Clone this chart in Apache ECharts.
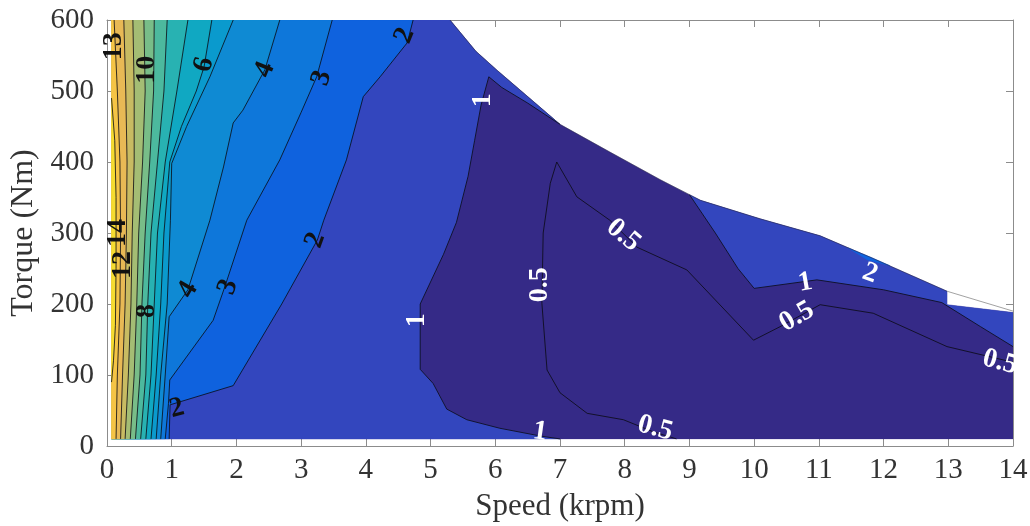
<!DOCTYPE html>
<html><head><meta charset="utf-8">
<script src="https://cdn.jsdelivr.net/npm/echarts@6/dist/echarts.min.js"></script>
<style>html,body{margin:0;padding:0;background:#fff}#c{width:1030px;height:526px}</style>
</head><body><div id="c"></div>
<script>
// ---------- data (speed in krpm, torque in Nm) ----------
const speedTicks = [0,1,2,3,4,5,6,7,8,9,10,11,12,13,14];
const torqueTicks = [0,100,200,300,400,500,600];
const contourLevels = [0.5,1,2,3,4,5,6,7,8,9,10,11,12,13,14];
const speedMin = 0.07;
const torqueMin = 10;

// operating envelope (upper boundary, left to right)
const envelopeTop = [[0.07,600],[5.3,600],[5.7,556],[6.03,529],[7.0,453],[7.77,414],[8.55,375],[9.0,354],[9.17,346],[10.09,320],[11.02,296],[11.79,266],[12.98,218],[12.98,199],[14,188]];
const notchTop = [[12.98,218],[14,190]];

// contour lines (loss %)
const c05 = [[8.8,10],[8.44,20],[7.98,37],[7.42,46],[7.0,75],[6.8,107],[6.72,201],[6.74,300],[6.85,370],[6.95,400],[7.26,351],[7.77,318],[8.19,280],[8.96,248],[9.99,149],[10.4,168],[11.02,199],[11.84,187],[12.98,140],[14,118]];
const c1Left = [[7.0,10],[6.7,14],[6.07,25],[5.56,37],[5.25,52],[5.04,88],[4.84,108],[4.84,200],[5.2,270],[5.4,315],[5.58,380],[5.68,430],[5.78,480],[5.9,520],[6.1,505],[6.5,483],[7.0,453]];
const c1Right = [[9.0,354],[9.4,300],[9.75,250],[10.0,222],[10.97,234],[12.0,220],[12.9,202],[13.5,168],[14,140]];
const c2Spot = [[11.45,279],[11.8,266],[12.1,254],[11.75,262]];
const c2 = [[0.96,10],[0.975,58],[1.95,85],[2.7,200],[3.25,290],[3.35,318],[3.7,403],[3.96,492],[4.22,520],[4.64,568],[4.73,600]];
const c3 = [[0.9,10],[0.95,60],[0.97,93],[1.64,177],[1.82,224],[2.16,318],[2.67,403],[3.0,470],[3.24,520],[3.48,600]];
const c4 = [[0.83,10],[0.9,100],[0.96,182],[1.25,220],[1.59,318],[1.8,393],[1.95,455],[2.1,473],[2.44,530],[2.67,600]];
const c5 = [[0.76,10],[0.83,100],[0.93,200],[0.98,318],[1.0,398],[1.23,450],[1.59,520],[1.95,600]];
const c6 = [[0.68,10],[0.76,100],[0.83,200],[0.88,300],[0.97,400],[1.15,450],[1.38,500],[1.5,534],[1.62,600]];
const c7 = [[0.6,10],[0.68,100],[0.73,200],[0.78,300],[0.9,400],[1.08,500],[1.25,600]];
const c8 = [[0.52,10],[0.6,100],[0.63,200],[0.68,300],[0.78,400],[0.88,500],[0.93,600]];
const c9 = [[0.44,10],[0.51,100],[0.54,200],[0.59,300],[0.66,400],[0.72,500],[0.73,600]];
const c10 = [[0.36,10],[0.42,100],[0.46,200],[0.49,300],[0.55,400],[0.59,500],[0.57,600]];
const c11 = [[0.28,10],[0.33,100],[0.37,200],[0.39,300],[0.42,400],[0.42,500],[0.4,600]];
const c12 = [[0.21,10],[0.24,100],[0.28,200],[0.3,300],[0.31,400],[0.29,500],[0.26,600]];
const c13 = [[0.14,10],[0.16,100],[0.2,200],[0.21,300],[0.2,400],[0.16,500],[0.11,600]];
const c14 = [[0.07,90],[0.1,120],[0.13,170],[0.14,250],[0.14,350],[0.12,430],[0.07,490]];

// contour labels
const labelText = ['13','10','6','4','3','2','14','12','8','4','3','2','2','1','1','1','0.5','0.5','0.5','0.5','0.5','1','2'];
const labelPos = [[0.1,563],[0.62,530],[1.5,537],[2.44,530],[3.32,518],[4.6,578],[0.16,300],[0.25,255],[0.62,190],[1.25,220],[1.87,224],[3.22,290],[1.08,53],[5.81,487],[4.79,177],[6.69,20],[6.69,227],[7.98,297],[8.47,25],[10.66,182],[13.8,118],[10.79,230],[11.79,243]];

// ---------- styles ----------
const labelRotation = [90,90,75,68,72,68,90,90,90,60,70,70,15,90,90,-8,90,-40,-15,30,-15,10,-20];
const whiteLabel = [false,false,false,false,false,false,false,false,false,false,false,false,false,true,true,true,true,true,true,true,true,true,true];
const bandColor = ['#352a87','#3346be','#0f62de','#0e77da','#0f8ad3','#0a9acd','#10a8c2','#28b2b2','#4cb99e','#78bd88','#a4bd74','#c8bb62','#e8b955','#f5c445','#f5dc30'];
const FONT = '"Liberation Serif", "Times New Roman", serif';

// ---------- build ----------
function envBetween(s0, s1) { return envelopeTop.filter(p => p[0] > s0 && p[0] < s1); }
const envelopePoly = envelopeTop.concat([[14,torqueMin],[speedMin,torqueMin]]);
const leftClose = [[speedMin,600],[speedMin,torqueMin]];
const poly1Left = c1Left.concat(envBetween(-1, 7.0).reverse(), [[speedMin,torqueMin]]);
const poly1Right = c1Right.concat([[14,188]], envBetween(9.0, 13.99).reverse());
const leftContours = [c2,c3,c4,c5,c6,c7,c8,c9,c10,c11,c12,c13];

function polySeries(points, color, z) {
  return { type:'custom', coordinateSystem:'cartesian2d', clip:true, silent:true, z:z,
    data:[[1,100]],
    renderItem: (params, api) => ({ type:'polygon',
      shape:{ points: points.map(p => api.coord(p)) },
      style:{ fill: color, stroke: color, lineWidth: 0.3 } }) };
}
function lineSeries(points, color, width, z) {
  return { type:'custom', coordinateSystem:'cartesian2d', clip:true, silent:true, z:z,
    data:[[1,100]],
    renderItem: (params, api) => ({ type:'polyline',
      shape:{ points: points.map(p => api.coord(p)) },
      style:{ fill: null, stroke: color, lineWidth: width } }) };
}

const series = [];
series.push(polySeries(envelopePoly, bandColor[0], 1));
series.push(polySeries(poly1Left, bandColor[1], 2));
series.push(polySeries(poly1Right, bandColor[1], 2));
series.push(polySeries(c2Spot, bandColor[2], 3));
leftContours.forEach((c, i) => series.push(polySeries(c.concat(leftClose), bandColor[i + 2], 3 + i)));
series.push(polySeries(c14, bandColor[14], 16));

const lineColor = 'rgba(10,10,20,0.9)';
[c05, c1Left, c1Right].concat(leftContours, [c14]).forEach(c => series.push(lineSeries(c, lineColor, 0.9, 18)));
series.push(lineSeries(envelopeTop.slice(1, 13), 'rgba(40,40,60,0.6)', 0.8, 18));
series.push(lineSeries(notchTop, '#8a8a8a', 0.8, 18));

series.push({ type:'custom', coordinateSystem:'cartesian2d', clip:false, silent:true, z:30,
  data: labelPos,
  renderItem: (params, api) => {
    const i = params.dataIndex;
    const p = api.coord([api.value(0), api.value(1)]);
    return { type:'text', x:p[0], y:p[1], rotation: labelRotation[i] * Math.PI / 180,
      style:{ text: labelText[i], fill: whiteLabel[i] ? '#ffffff' : '#111111',
        font: 'bold 28px ' + FONT, align:'center', verticalAlign:'middle' } };
  } });

const axisGrey = '#8c8c8c';
const tickStyle = { show:true, inside:true, length:7, lineStyle:{ color: axisGrey, width:1 } };
const chart = echarts.init(document.getElementById('c'), null, { renderer:'canvas' });
chart.setOption({
  animation:false,
  backgroundColor:'#ffffff',
  grid:{ left:107, right:17, top:20, bottom:80, containLabel:false, outerBoundsMode:'none' },
  xAxis:[
    { type:'value', position:'bottom', min:0, max:14, interval:1,
      axisLine:{ show:true, onZero:false, lineStyle:{ color: axisGrey, width:1 } },
      axisTick: tickStyle, splitLine:{ show:false },
      axisLabel:{ show:true, margin:10, fontSize:29, fontFamily: FONT, color:'#333',
        showMinLabel:true, showMaxLabel:true, formatter: v => String(speedTicks[Math.round(v)]) },
      name:'Speed (krpm)', nameLocation:'middle', nameGap:45,
      nameTextStyle:{ fontSize:31, fontFamily: FONT, color:'#333' } },
    { type:'value', position:'top', min:0, max:14, interval:1,
      axisLine:{ show:true, onZero:false, lineStyle:{ color: axisGrey, width:1 } },
      axisTick: tickStyle, axisLabel:{ show:false }, splitLine:{ show:false } }
  ],
  yAxis:[
    { type:'value', position:'left', min:0, max:600, interval:100,
      axisLine:{ show:true, onZero:false, lineStyle:{ color: axisGrey, width:1 } },
      axisTick: tickStyle, splitLine:{ show:false },
      axisLabel:{ show:true, margin:13, fontSize:29, fontFamily: FONT, color:'#333',
        showMinLabel:true, showMaxLabel:true, formatter: v => String(torqueTicks[Math.round(v / 100)]) },
      name:'Torque (Nm)', nameLocation:'middle', nameGap:66, nameRotate:90,
      nameTextStyle:{ fontSize:32, fontFamily: FONT, color:'#333' } },
    { type:'value', position:'right', min:0, max:600, interval:100,
      axisLine:{ show:true, onZero:false, lineStyle:{ color: axisGrey, width:1 } },
      axisTick: tickStyle, axisLabel:{ show:false }, splitLine:{ show:false } }
  ],
  series: series
});
</script></body></html>
